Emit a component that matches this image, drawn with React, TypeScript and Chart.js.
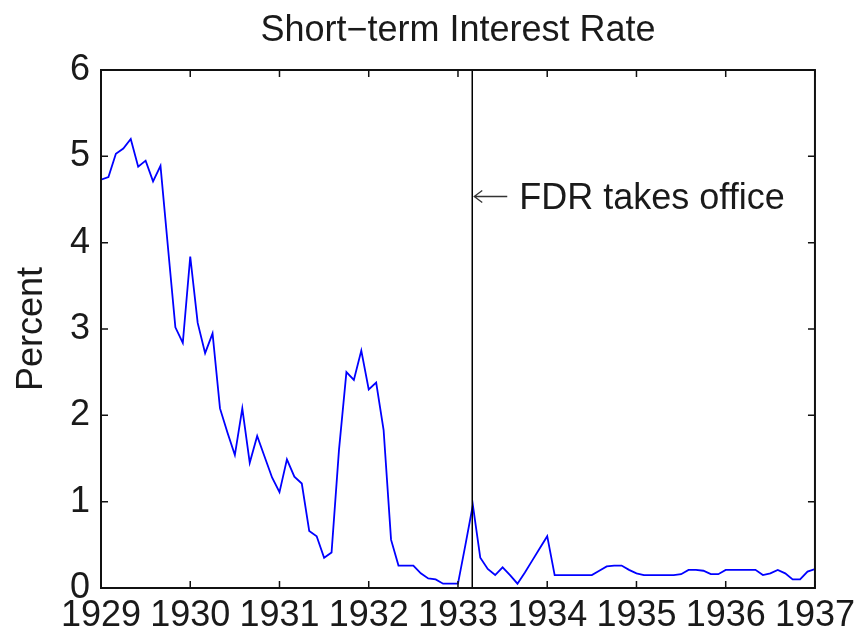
import React, { useEffect, useRef } from "react";
import { Chart, registerables } from "chart.js";

Chart.register(...registerables);

const TITLE = "Short\u2212term Interest Rate";
const Y_LABEL = "Percent";
const ANNOTATION = "FDR takes office";
const FDR_DATE = 1933.16; // March 4, 1933
const ANNOTATION_Y = 4.5;

const START_YEAR = 1929;
const YEAR_TICKS = [1929, 1930, 1931, 1932, 1933, 1934, 1935, 1936, 1937];
const PERCENT_TICKS = [0, 1, 2, 3, 4, 5, 6];

// Monthly short-term rate, Jan 1929 .. Jan 1937
const rate1929 = [4.73, 4.76, 5.03, 5.09, 5.2, 4.88, 4.95, 4.71, 4.89, 3.95, 3.02, 2.84];
const rate1930 = [3.84, 3.07, 2.72, 2.95, 2.08, 1.8, 1.54, 2.08, 1.45, 1.76, 1.52, 1.28];
const rate1931 = [1.11, 1.49, 1.29, 1.21, 0.66, 0.6, 0.35, 0.41, 1.6, 2.5, 2.41, 2.75];
const rate1932 = [2.3, 2.38, 1.83, 0.56, 0.26, 0.26, 0.26, 0.17, 0.11, 0.1, 0.05, 0.05];
const rate1933 = [0.05, 0.5, 0.96, 0.35, 0.22, 0.15, 0.24, 0.15, 0.05, 0.18, 0.32, 0.46];
const rate1934 = [0.6, 0.15, 0.15, 0.15, 0.15, 0.15, 0.15, 0.2, 0.25, 0.26, 0.26, 0.21];
const rate1935 = [0.17, 0.15, 0.15, 0.15, 0.15, 0.15, 0.16, 0.21, 0.21, 0.2, 0.16, 0.16];
const rate1936 = [0.21, 0.21, 0.21, 0.21, 0.21, 0.15, 0.17, 0.21, 0.17, 0.1, 0.1, 0.19];
const rate1937 = [0.22];

const rates = [
  ...rate1929, ...rate1930, ...rate1931, ...rate1932, ...rate1933,
  ...rate1934, ...rate1935, ...rate1936, ...rate1937,
];

const FONT = "'Liberation Sans', Arial, Helvetica, sans-serif";
const TEXT_COLOR = "#1a1a1a";

export default function App() {
  const ref = useRef<HTMLCanvasElement | null>(null);

  useEffect(() => {
    document.body.style.margin = "0";
    const canvas = ref.current;
    if (!canvas) return;

    const points = rates.map((v, i) => ({ x: START_YEAR + i / 12, y: v }));

    const framePlugin = {
      id: "frame",
      afterDatasetsDraw(chart: any) {
        const { ctx, chartArea } = chart;
        const xs = chart.scales.x;
        const ys = chart.scales.y;
        ctx.save();
        // FDR vertical line
        const fx = xs.getPixelForValue(FDR_DATE);
        ctx.strokeStyle = "#000";
        ctx.lineWidth = 1.5;
        ctx.beginPath();
        ctx.moveTo(fx, chartArea.top);
        ctx.lineTo(fx, chartArea.bottom);
        ctx.stroke();
        // frame
        ctx.lineWidth = 2;
        ctx.strokeStyle = "#111";
        ctx.strokeRect(chartArea.left, chartArea.top, chartArea.right - chartArea.left, chartArea.bottom - chartArea.top);
        // inward ticks
        const tl = 7;
        ctx.lineWidth = 1.5;
        ctx.beginPath();
        YEAR_TICKS.forEach((t) => {
          const px = xs.getPixelForValue(t);
          ctx.moveTo(px, chartArea.bottom);
          ctx.lineTo(px, chartArea.bottom - tl);
          ctx.moveTo(px, chartArea.top);
          ctx.lineTo(px, chartArea.top + tl);
        });
        PERCENT_TICKS.forEach((t) => {
          const py = ys.getPixelForValue(t);
          ctx.moveTo(chartArea.left, py);
          ctx.lineTo(chartArea.left + tl, py);
          ctx.moveTo(chartArea.right, py);
          ctx.lineTo(chartArea.right - tl, py);
        });
        ctx.stroke();
        // annotation arrow
        const ay = ys.getPixelForValue(ANNOTATION_Y) - 3;
        const tipX = fx + 2;
        ctx.strokeStyle = "#333";
        ctx.lineWidth = 1.3;
        ctx.beginPath();
        ctx.moveTo(tipX, ay);
        ctx.lineTo(tipX + 33, ay);
        ctx.moveTo(tipX + 8, ay - 6);
        ctx.lineTo(tipX, ay);
        ctx.lineTo(tipX + 8, ay + 6);
        ctx.stroke();
        // annotation text
        ctx.fillStyle = TEXT_COLOR;
        ctx.font = `36px ${FONT}`;
        ctx.textAlign = "left";
        ctx.textBaseline = "middle";
        ctx.fillText(ANNOTATION, fx + 47, ys.getPixelForValue(ANNOTATION_Y));
        // title
        ctx.textAlign = "center";
        ctx.fillText(TITLE, (chartArea.left + chartArea.right) / 2, 31);
        ctx.restore();
      },
    };

    const chart = new Chart(canvas, {
      type: "line",
      data: {
        datasets: [
          {
            data: points,
            borderColor: "rgb(0,0,255)",
            borderWidth: 1.8,
            pointRadius: 0,
            fill: false,
            tension: 0,
          },
        ],
      },
      options: {
        responsive: false,
        animation: false,
        layout: { padding: { top: 70, right: 44, left: 0, bottom: 0 } },
        plugins: { legend: { display: false }, tooltip: { enabled: false }, title: { display: false } },
        scales: {
          x: {
            type: "linear",
            min: 1929,
            max: 1937,
            grid: { display: false, drawTicks: false },
            border: { display: false },
            afterBuildTicks: (s: any) => {
              s.ticks = YEAR_TICKS.map((v) => ({ value: v }));
            },
            afterFit: (s: any) => {
              s.height = 45;
            },
            ticks: {
              autoSkip: false,
              maxRotation: 0,
              padding: 6,
              color: TEXT_COLOR,
              font: { family: FONT, size: 36 },
              callback: (v: any) => String(v),
            },
          },
          y: {
            min: 0,
            max: 6,
            grid: { display: false, drawTicks: false },
            border: { display: false },
            afterBuildTicks: (s: any) => {
              s.ticks = PERCENT_TICKS.map((v) => ({ value: v }));
            },
            afterFit: (s: any) => {
              s.width = 101;
            },
            ticks: {
              padding: 11,
              color: TEXT_COLOR,
              font: { family: FONT, size: 36 },
              callback: (v: any) => String(v),
            },
            title: {
              display: true,
              text: Y_LABEL,
              color: TEXT_COLOR,
              font: { family: FONT, size: 36 },
              padding: { top: 10, bottom: 0 },
            },
          },
        },
      },
      plugins: [framePlugin],
    });
    return () => chart.destroy();
  }, []);

  return (
    <div style={{ width: 861, height: 633 }}>
      <canvas ref={ref} width={861} height={633} style={{ display: "block" }} />
    </div>
  );
}
